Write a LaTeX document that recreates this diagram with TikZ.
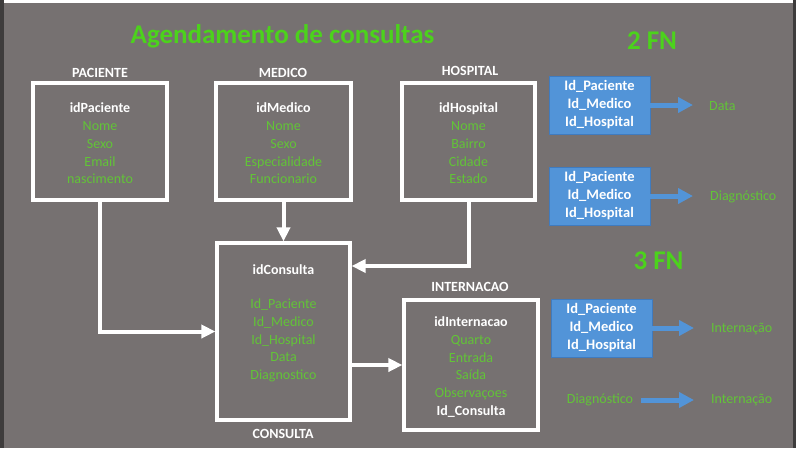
\documentclass[tikz,border=0pt]{standalone}
\usepackage{fontspec}
\setmainfont{Carlito}
\usetikzlibrary{arrows.meta}
\definecolor{bg}{HTML}{767171}
\definecolor{gtitle}{HTML}{4CD21C}
\definecolor{gtext}{HTML}{62C437}
\definecolor{bblue}{HTML}{5294D8}
\definecolor{bborder}{HTML}{3F7BBF}
\definecolor{edge}{HTML}{3E3C3C}
\begin{document}
\begin{tikzpicture}[x=1pt,y=-1pt,
  entbox/.style={draw=white, line width=3.2pt, inner sep=0pt},
  fld/.style={text=gtext, align=center, inner sep=0pt, font=\fontsize{14}{17.7}\selectfont},
  keyf/.style={text=white, inner sep=0pt, font=\fontsize{14}{17}\selectfont\bfseries},
  lbl/.style={text=white, inner sep=0pt, font=\fontsize{14}{17}\selectfont\bfseries},
  big/.style={text=gtitle, inner sep=0pt, anchor=base, font=\fontsize{27}{30}\selectfont\bfseries},
  bluebox/.style={fill=bblue, draw=bborder, line width=0.8pt, text=white, align=center,
     minimum width=101pt, minimum height=58pt, inner sep=0pt, font=\fontsize{14.5}{18}\selectfont\bfseries},
  gl/.style={text=gtext, inner sep=0pt, font=\fontsize{14}{17}\selectfont},
  conn/.style={draw=white, line width=4pt, -{Triangle[width=13pt,length=14pt]}},
  barrow/.style={draw=bblue, line width=5pt, -{Triangle[width=15pt,length=15pt]}}
]
\useasboundingbox (0,0) rectangle (796,448);
\fill[bg] (0,0) rectangle (796,448);
\fill[white] (0,0) rectangle (793,3);
\fill[edge] (0,0) rectangle (4,448);
\fill[edge] (793,0) rectangle (796,448);

% titles
\node[big] (title) at (282.5,43) {Agendamento de consultas};
\node[big] (fn2) at (652,49) {2 FN};
\node[big] (fn3) at (658.5,269) {3 FN};

% entity boxes
\node[entbox, minimum width=134pt, minimum height=117pt] (pac) at (100,141.5) {};
\node[entbox, minimum width=135pt, minimum height=117pt] (med) at (283.5,141.5) {};
\node[entbox, minimum width=133pt, minimum height=117pt] (hos) at (468.5,141.5) {};
\node[entbox, minimum width=133pt, minimum height=177pt] (cons) at (283.5,331.5) {};
\node[entbox, minimum width=134pt, minimum height=130pt] (int) at (471,365) {};

% labels
\node[lbl] (lpac) at (100,73) {PACIENTE};
\node[lbl] (lmed) at (283,73) {MEDICO};
\node[lbl] (lhos) at (470,71) {HOSPITAL};
\node[lbl] (lint) at (470,287) {INTERNACAO};
\node[lbl] (lcons) at (283,434) {CONSULTA};

% fields
\node[fld] (fpac) at (100,143.5) {\textcolor{white}{\bfseries idPaciente}\\Nome\\Sexo\\Email\\nascimento};
\node[fld] (fmed) at (283.5,143.5) {\textcolor{white}{\bfseries idMedico}\\Nome\\Sexo\\Especialidade\\Funcionario};
\node[fld] (fhos) at (468.5,143.5) {\textcolor{white}{\bfseries idHospital}\\Nome\\Bairro\\Cidade\\Estado};
\node[keyf] (kcons) at (283.5,270) {idConsulta};
\node[fld] (fcons) at (283.5,340.5) {Id\_Paciente\\Id\_Medico\\Id\_Hospital\\Data\\Diagnostico};
\node[fld] (fint) at (471,367) {\textcolor{white}{\bfseries idInternacao}\\Quarto\\Entrada\\Saída\\Observaçoes\\\textcolor{white}{\bfseries Id\_Consulta}};

% connectors
\draw[conn] (pac.south) |- (cons.west);
\draw[conn] (med.south) -- (cons.north);
\draw[conn] (hos.south) |- ([yshift=65.5pt]cons.east);
\draw[conn] (cons.east |- int.west) -- (int.west);

% normal forms
\node[bluebox] (b1) at (599.5,105) {Id\_Paciente\\Id\_Medico\\Id\_Hospital};
\node[bluebox] (b2) at (599.5,196) {Id\_Paciente\\Id\_Medico\\Id\_Hospital};
\node[bluebox] (b3) at (601.5,328) {Id\_Paciente\\Id\_Medico\\Id\_Hospital};
\node[gl, anchor=west] (d1) at (709,106) {Data};
\node[gl, anchor=west] (d2) at (710,197) {Diagnóstico};
\node[gl, anchor=west] (d3) at (711,329) {Internação};
\node[gl] (d4) at (600,400) {Diagnóstico};
\node[gl, anchor=west] (d5) at (711,400) {Internação};

\draw[barrow, shorten >=16pt] (b1.east) -- (b1.east -| d1.west);
\draw[barrow, shorten >=17pt] (b2.east) -- (b2.east -| d2.west);
\draw[barrow, shorten >=17pt] (b3.east) -- (b3.east -| d3.west);
\draw[barrow, shorten <=8pt, shorten >=17pt] (d4.east) -- (d5.west);
\end{tikzpicture}
\end{document}
